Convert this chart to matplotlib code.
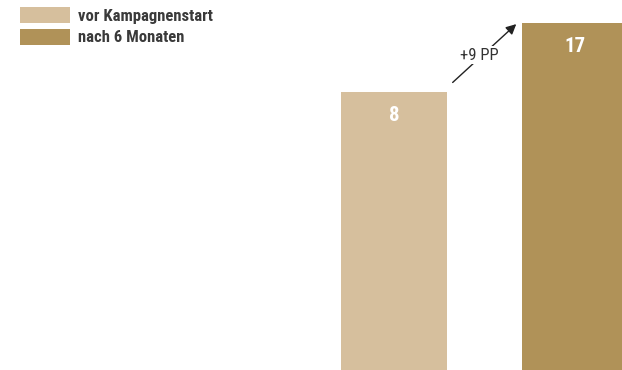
import matplotlib
matplotlib.use("Agg")
from matplotlib import pyplot as plt
from matplotlib.patches import Patch
from matplotlib import font_manager

# Daten
labels = ["vor Kampagnenstart", "nach 6 Monaten"]
values = [8, 17]
colors = ["#d6bf9d", "#b09258"]
diff_label = "+9 PP"

# schmale Schrift suchen
names = sorted({f.name for f in font_manager.fontManager.ttflist})
fam = "DejaVu Sans"
for cand in ["Liberation Sans Narrow", "DejaVu Sans Condensed", "Roboto Condensed",
             "Open Sans Condensed", "Noto Sans Condensed"]:
    if cand in names:
        fam = cand
        break
plt.rcParams['font.family'] = [fam, 'DejaVu Sans']
plt.rcParams['font.stretch'] = 'condensed'

fig = plt.figure(figsize=(6.22, 3.70), dpi=100)
ax = fig.add_axes([0, 0, 1, 1])

x = [0, 1]
w = 0.586
base = -30
for xi, v, c in zip(x, values, colors):
    ax.bar(xi, v - base, bottom=base, width=w, color=c)
    ax.text(xi, v - 3.0, str(v), ha="center", va="center", color="white",
            fontsize=15, fontweight="bold")

ax.set_xlim(-2.177, 1.260)
ax.set_ylim(-28.26, 20.0)
ax.axis("off")

# Pfeil zwischen den Balken
ax.annotate("", xy=(x[1] - w / 2 - 0.02, values[1] + 0.1),
            xytext=(x[0] + w / 2 + 0.02, values[0] + 1.0),
            arrowprops=dict(arrowstyle="-|>", color="#222222", lw=1.0,
                            mutation_scale=15))
ax.text((x[0] + x[1]) / 2 - 0.03, (values[0] + values[1]) / 2 + 0.3, diff_label,
        ha="center", va="center", fontsize=12, color="#333333",
        bbox=dict(facecolor="white", edgecolor="none", pad=1.0))

handles = [Patch(facecolor=c, edgecolor="none") for c in colors]
fig.legend(handles, labels, loc="upper left", bbox_to_anchor=(0.027, 0.99),
           frameon=False, handlelength=3.0, handleheight=1.1,
           handletextpad=0.45, labelspacing=0.3, labelcolor="#3a3a3a",
           borderaxespad=0, borderpad=0.2, prop={'weight': 'bold', 'size': 12})

fig.savefig("out.png", dpi=100)
